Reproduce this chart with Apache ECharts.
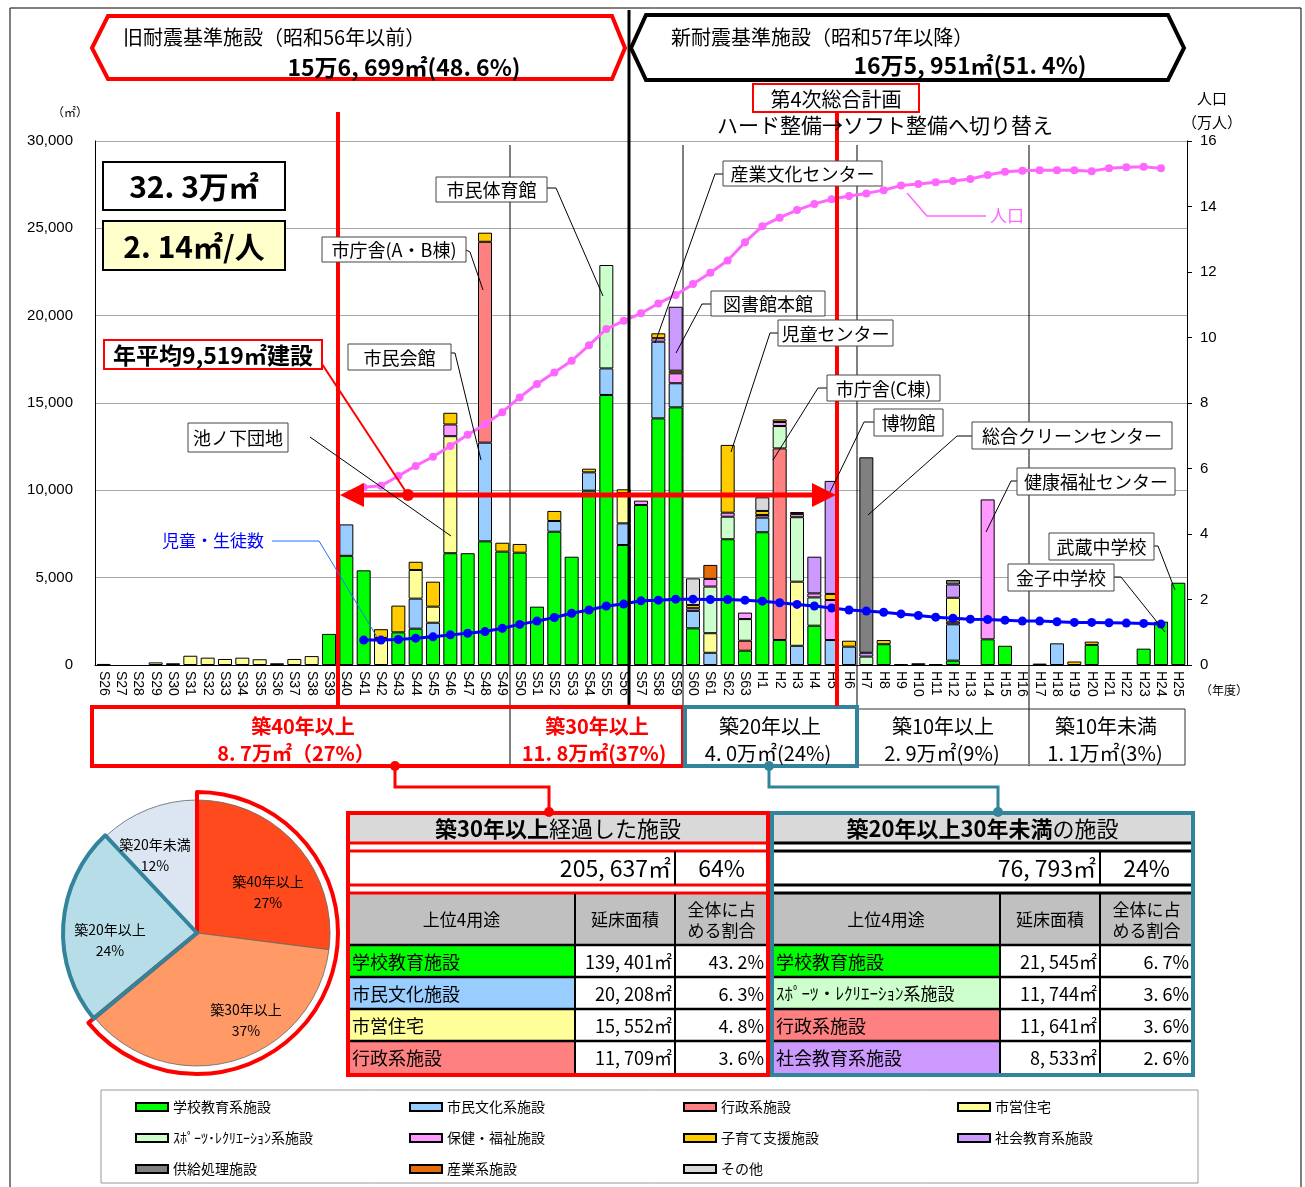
<!DOCTYPE html>
<html><head><meta charset="utf-8">
<script src="https://cdn.jsdelivr.net/npm/echarts@6/dist/echarts.min.js"></script>
<style>html,body{margin:0;padding:0;background:#fff}#c{width:1305px;height:1187px}</style>
</head><body><div id="c"></div>
<script>
// ---------------- DATA ----------------
const categories = ['S26','S27','S28','S29','S30','S31','S32','S33','S34','S35','S36','S37','S38','S39','S40','S41','S42','S43','S44','S45','S46','S47','S48','S49','S50','S51','S52','S53','S54','S55','S56','S57','S58','S59','S60','S61','S62','S63','H1','H2','H3','H4','H5','H6','H7','H8','H9','H10','H11','H12','H13','H14','H15','H16','H17','H18','H19','H20','H21','H22','H23','H24','H25'];
// floor area (m2) by facility type and year (only non-zero years listed)
const school    = {S39:1780,S40:6250,S41:5420,S43:1870,S44:2080,S45:1620,S46:6400,S47:6400,S48:7080,S49:6490,S50:6430,S51:3340,S52:7630,S53:6200,S54:9980,S55:15460,S56:6870,S57:9160,S58:14120,S59:14750,S60:2100,S62:7200,S63:820,H1:7600,H2:1430,H4:2250,H8:1190,H12:250,H14:1470,H15:1100,H20:1150,H23:935,H24:2480,H25:4710};
const civic     = {S40:1800,S44:1720,S45:800,S48:5650,S52:615,S54:1050,S55:1520,S56:1240,S58:4390,S59:1380,S60:1000,S61:700,H1:840,H3:1100,H5:1430,H6:1050,H12:2080,H18:1240};
const admin     = {S48:11500,S63:570,H2:10970,H12:150};
const housing   = {S26:60,S29:150,S30:100,S31:530,S32:420,S33:345,S34:420,S35:330,S36:100,S37:345,S38:510,S42:1550,S44:1640,S45:920,S46:6700,S56:1720,S61:1120,H3:3670,H12:1370};
const sports    = {S55:5920,S61:2670,S62:1290,S63:1240,H2:1280,H3:3690,H4:1620,H7:480};
const welfare   = {S46:670,S57:250,S58:200,S59:570,S60:150,S61:440,S62:230,S63:370,H1:150,H2:230,H3:180,H4:230,H5:2290,H14:8010};
const childcare = {S42:500,S43:1530,S44:470,S45:1430,S46:670,S48:520,S49:510,S50:500,S52:575,S54:210,S56:230,S58:280,S59:150,S60:180,S62:3880,H1:230,H2:150,H3:120,H5:350,H6:340,H8:240,H17:80,H19:200,H20:190};
const socialEdu = {S59:3660,H4:2100,H5:6470,H7:220,H9:50,H10:100,H12:760};
const supply    = {H7:11190,H11:50,H12:250};
const industry  = {S61:800};
const other     = {S60:1530,H1:780};
const facilityNames = ['学校教育系施設','市民文化系施設','行政系施設','市営住宅','ｽﾎﾟｰﾂ･ﾚｸﾘｴｰｼｮﾝ系施設','保健・福祉施設','子育て支援施設','社会教育系施設','供給処理施設','産業系施設','その他'];
const facilityData = [school,civic,admin,housing,sports,welfare,childcare,socialEdu,supply,industry,other];

// population (10k persons) and pupils (10k persons), from S41 to H24
const lineStart = 'S41';
const population = [5.43,5.47,5.77,6.08,6.36,6.69,7.03,7.35,7.72,8.17,8.58,8.93,9.29,9.76,10.26,10.51,10.74,11.04,11.30,11.63,11.98,12.35,12.91,13.40,13.66,13.89,14.08,14.22,14.32,14.40,14.50,14.64,14.69,14.74,14.78,14.84,14.96,15.06,15.09,15.11,15.11,15.11,15.08,15.17,15.20,15.21,15.17];
const pupils = [0.76,0.76,0.78,0.82,0.86,0.92,0.97,1.02,1.12,1.24,1.34,1.45,1.58,1.68,1.80,1.86,1.96,1.98,2.01,2.01,2.00,2.00,1.98,1.95,1.90,1.85,1.80,1.74,1.68,1.65,1.61,1.56,1.51,1.46,1.43,1.40,1.39,1.37,1.34,1.34,1.32,1.30,1.30,1.29,1.28,1.27,1.25];

const pieLabels = ['築40年以上','築30年以上','築20年以上','築20年未満'];
const pieShares = [27,37,24,12];

const bandTitles = ['築40年以上','築30年以上','築20年以上','築10年以上','築10年未満'];
const bandValues = ['8. 7万㎡（27%）','11. 8万㎡(37%)','4. 0万㎡(24%)','2. 9万㎡(9%)','1. 1万㎡(3%)'];

const oldTotal = ['205, 637㎡','64%'];
const oldUses = ['学校教育施設','市民文化施設','市営住宅','行政系施設'];
const oldAreas = ['139, 401㎡','20, 208㎡','15, 552㎡','11, 709㎡'];
const oldShares = ['43. 2%','6. 3%','4. 8%','3. 6%'];
const midTotal = ['76, 793㎡','24%'];
const midUses = ['学校教育施設','ｽﾎﾟｰﾂ・ﾚｸﾘｴｰｼｮﾝ系施設','行政系施設','社会教育系施設'];
const midAreas = ['21, 545㎡','11, 744㎡','11, 641㎡','8, 533㎡'];
const midShares = ['6. 7%','3. 6%','3. 6%','2. 6%'];

// ---------------- STYLES ----------------
const facilityColors = ['#00FF00','#99CCFF','#FF8080','#FFFF99','#CCFFCC','#FF99FF','#FFCC00','#CC99FF','#808080','#E46C0A','#D9D9D9'];
const pieColors = ['#FF4A1E','#FF9966','#B7DEE8','#DCE6F2'];
const oldRowColors = ['#00FF00','#99CCFF','#FFFF99','#FF8080'];
const midRowColors = ['#00FF00','#CCFFCC','#FF8080','#CC99FF'];
const JP = '"Noto Sans CJK JP","Noto Sans",sans-serif';
const NUM = '"Liberation Sans",Arial,sans-serif';
const RED = '#FF0000', TEAL = '#31849B';

// ---------------- GRAPHIC HELPERS ----------------
const G = [];
function T(x,y,str,o={}){ G.push({type:'text',x,y,z:o.z||110,silent:true,style:{text:str,fontSize:o.size||16,fontFamily:o.family||JP,fontWeight:o.weight||'normal',fill:o.color||'#000',align:o.align||'center',verticalAlign:'middle',textAlign:o.align||'center',textVerticalAlign:'middle',lineHeight:o.lh,rich:o.rich}}); }
function R(x,y,w,h,o={}){ G.push({type:'rect',z:o.z||100,silent:true,shape:{x,y,width:w,height:h},style:{fill:o.fill||'none',stroke:o.stroke||null,lineWidth:o.lw||1}}); }
function L(points,o={}){ G.push({type:'polyline',z:o.z||105,silent:true,shape:{points},style:{stroke:o.color||'#000',lineWidth:o.lw||1,fill:null}}); }
function P(points,o={}){ G.push({type:'polygon',z:o.z||105,silent:true,shape:{points},style:{fill:o.fill||'none',stroke:o.stroke||null,lineWidth:o.lw||1}}); }
function C(cx,cy,r,o={}){ G.push({type:'circle',z:o.z||106,silent:true,shape:{cx,cy,r},style:{fill:o.fill||'#000'}}); }
function box(x,y,w,h,txt,o={}){ R(x,y,w,h,{fill:o.fill||'#fff',stroke:o.stroke||'#444',lw:o.lw||1,z:o.z||100}); T(x+w/2,y+h/2+1,txt,{size:o.size||18,weight:o.weight,color:o.color,z:(o.z||100)+1}); }

// outer frame
R(10,8,1291,1190,{stroke:'#000',lw:1,z:1});

// header hexagons
P([[92,48],[108,16],[612,16],[625,48],[612,79],[108,79]],{fill:'#fff',stroke:RED,lw:4});
T(123,37,'旧耐震基準施設（昭和56年以前）',{size:20,align:'left'});
T(404,67,'15万6, 699㎡(48. 6%)',{size:23,weight:'bold'});
P([[631,48],[646,15],[1168,15],[1184,48],[1168,80],[646,80]],{fill:'#fff',stroke:'#000',lw:4});
T(671,37,'新耐震基準施設（昭和57年以降）',{size:20,align:'left'});
T(970,65,'16万5, 951㎡(51. 4%)',{size:23,weight:'bold'});

// axis titles
T(70,112,'（㎡）',{size:12});
T(1212,98,'人口',{size:15});
T(1212,122,'（万人）',{size:15});
T(1224,690,'（年度）',{size:12});

// planning labels
box(753,84,166,28,'第4次総合計画',{stroke:RED,lw:2,size:20});
T(885,125,'ハード整備→ソフト整備へ切り替え',{size:21});

// summary boxes
box(103,162,182,48,'32. 3万㎡',{stroke:'#000',lw:2,size:30,weight:'bold'});
box(103,221,182,49,'2. 14㎡/人',{stroke:'#000',lw:2,size:30,weight:'bold',fill:'#FFFFCC'});
box(104,340,218,29,'年平均9,519㎡建設',{stroke:RED,lw:2,size:23,weight:'bold'});

// vertical separators
[510,683,857,1029].forEach(x=>L([[x,145],[x,766]],{lw:1,z:3}));
L([[629,10],[629,705]],{lw:3,z:90});
L([[338,112],[338,706]],{color:RED,lw:4,z:95});
L([[837,112],[837,706]],{color:RED,lw:4,z:95});

// annual average arrow
L([[322,364],[408,495]],{color:RED,lw:2,z:96});
L([[358,495],[817,495]],{color:RED,lw:5,z:96});
P([[340,495],[364,483],[364,507]],{fill:RED,z:96});
P([[836,495],[812,483],[812,507]],{fill:RED,z:96});
C(408,495,6,{fill:RED,z:97});

// facility call-outs
const callouts = [
  ['池ノ下団地',188,423,100,29,[[310,437],[451,536]]],
  ['市民会館',348,344,103,26,[[451,353],[455,353],[481,460]]],
  ['市庁舎(A・B棟)',322,237,144,25,[[466,250],[470,252],[483,290]]],
  ['市民体育館',436,177,111,25,[[547,188],[556,188],[603,296]]],
  ['産業文化センター',723,161,159,25,[[723,174],[715,174],[655,343]]],
  ['図書館本館',711,291,114,25,[[711,304],[702,304],[676,353]]],
  ['児童センター',778,320,115,26,[[778,333],[770,333],[731,452]]],
  ['市庁舎(C棟)',827,375,113,26,[[827,388],[818,388],[773,460]]],
  ['博物館',874,409,69,27,[[874,422],[864,422],[830,492]]],
  ['総合クリーンセンター',972,422,200,27,[[972,436],[957,436],[868,515]]],
  ['健康福祉センター',1017,468,158,27,[[1017,481],[1011,481],[986,532]]],
  ['武蔵中学校',1049,533,105,27,[[1154,546],[1158,546],[1175,590]]],
  ['金子中学校',1008,564,106,27,[[1114,577],[1121,577],[1165,632]]]
];
callouts.forEach(c=>{ box(c[1],c[2],c[3],c[4],c[0],{size:18}); L(c[5],{lw:1,z:99}); });

// line labels
T(1007,216,'人口',{size:17,color:'#FF66FF'});
L([[907,193],[927,216],[986,216]],{color:'#FF66FF',lw:1.5,z:99});
T(213,541,'児童・生徒数',{size:17,color:'#0000FF'});
L([[272,541],[319,541],[377,637]],{color:'#1a75ff',lw:1,z:99});

// age band row
R(92,707,591,59,{stroke:RED,lw:4,fill:'#fff',z:60});
R(685,707,172,59,{stroke:TEAL,lw:4,fill:'#fff',z:60});
R(857,709,328,56,{stroke:'#333',lw:1,fill:'#fff',z:59});
L([[510,709],[510,764]],{lw:1,z:61});
L([[1029,709],[1029,764]],{lw:1,z:61});
const bandC1 = [303,597,770,943,1106], bandC2 = [296,594,768,942,1105];
bandTitles.forEach((t,i)=>{
  const red = i<2;
  T(bandC1[i],726,t,{size:20,weight:red?'bold':'normal',color:red?RED:'#000'});
  T(bandC2[i],753,bandValues[i],{size:20,weight:red?'bold':'normal',color:red?RED:'#000'});
});

// connectors
L([[395,766],[395,787],[549,787],[549,812]],{color:RED,lw:3,z:62});
C(395,766,5,{fill:RED,z:63}); C(549,812,5,{fill:RED,z:120});
L([[769,766],[769,787],[998,787],[998,812]],{color:TEAL,lw:3,z:62});
C(769,766,5,{fill:TEAL,z:63}); C(998,812,5,{fill:TEAL,z:120});

// tables
function table(x0,c1,c2,x3,border,titleBold,titleNorm,total,uses,areas,shares,colors){
  const w = x3-x0;
  const inner = border===RED ? RED : '#000';
  R(x0,813,w,262,{fill:'#fff',z:70});
  R(x0+2,815,w-4,27,{fill:'#D9D9D9',z:71});
  T(x0+w/2,829,'{b|'+titleBold+'}{n|'+titleNorm+'}',{z:80,rich:{b:{fontSize:22,fontWeight:'bold',fontFamily:JP,fill:'#000'},n:{fontSize:22,fontFamily:JP,fill:'#000'}}});
  [843,851,885,893].forEach(y=>L([[x0,y],[x3,y]],{color:inner,lw:3,z:75}));
  T(c2-4,868,total[0],{size:23,align:'right',z:80});
  T((c2+x3)/2,868,total[1],{size:23,z:80});
  L([[c2,851],[c2,885]],{lw:2,z:76});
  R(x0+2,894,w-4,51,{fill:'#C0C0C0',z:71});
  T((x0+c1)/2,920,'上位4用途',{size:17,z:80});
  T((c1+c2)/2,920,'延床面積',{size:17,z:80});
  T((c2+x3)/2,920,'全体に占\nめる割合',{size:17,lh:21,z:80});
  const rowY=[946,978,1010,1042];
  rowY.forEach((y,i)=>{
    R(x0+2,y,c1-x0-2,32,{fill:colors[i],z:71});
    T(x0+4,y+16,uses[i],{size:i===1&&border!==RED?17:18,align:'left',z:80});
    T(c2-3,y+16,areas[i],{size:18,align:'right',z:80});
    T(x3-4,y+16,shares[i],{size:18,align:'right',z:80});
  });
  [945,977,1009,1041].forEach(y=>L([[x0,y],[x3,y]],{lw:2.5,z:75}));
  L([[c1,894],[c1,1074]],{lw:2,z:76});
  L([[c2,894],[c2,1074]],{lw:2,z:76});
  R(x0,813,w,262,{stroke:border,lw:4,z:78});
}
table(348,575,675,768,RED,'築30年以上','経過した施設',oldTotal,oldUses,oldAreas,oldShares,oldRowColors);
table(772,1000,1100,1193,TEAL,'築20年以上30年未満','の施設',midTotal,midUses,midAreas,midShares,midRowColors);

// pie labels
const pieLabelPos = [[268,892],[246,1020],[110,940],[155,855]];
pieLabels.forEach((t,i)=>T(pieLabelPos[i][0],pieLabelPos[i][1],t+'\n'+pieShares[i]+'%',{size:14,lh:21,z:120}));

// legend frame
R(101,1090,1097,93,{stroke:'#999',lw:1,z:1});

// ---------------- SERIES ----------------
const startIdx = categories.indexOf(lineStart);
function fullLine(arr){ return categories.map((c,i)=> (i>=startIdx && i<startIdx+arr.length) ? arr[i-startIdx] : null); }
const barSeries = facilityNames.map((name,k)=>({
  name, type:'bar', stack:'area', barWidth:14, z:2,
  itemStyle:{color:facilityColors[k], borderColor:'#000', borderWidth:1},
  data: categories.map(c=> facilityData[k][c]!=null ? facilityData[k][c] : null)
}));

const legendCommon = {orient:'vertical', top:1099, itemWidth:32, itemHeight:8, itemGap:15, padding:0, icon:'rect', selectedMode:false,
  textStyle:{fontFamily:JP, fontSize:14, color:'#000', lineHeight:16}};

const option = {
  animation:false,
  backgroundColor:'#fff',
  grid:{left:95, right:118, top:141, bottom:522, containLabel:false},
  legend:[
    Object.assign({left:135, data:[facilityNames[0],facilityNames[4],facilityNames[8]]},legendCommon),
    Object.assign({left:409, data:[facilityNames[1],facilityNames[5],facilityNames[9]]},legendCommon),
    Object.assign({left:683, data:[facilityNames[2],facilityNames[6],facilityNames[10]]},legendCommon),
    Object.assign({left:957, data:[facilityNames[3],facilityNames[7]]},legendCommon)
  ],
  xAxis:{type:'category', data:categories, axisTick:{show:false},
    axisLine:{show:true, lineStyle:{color:'#000', width:1}},
    axisLabel:{rotate:-90, interval:0, fontSize:14, fontFamily:NUM, color:'#000', margin:6}},
  yAxis:[
    {type:'value', min:0, max:30000, interval:5000,
      axisLine:{show:true, lineStyle:{color:'#000'}}, axisTick:{show:false},
      axisLabel:{fontSize:15, fontFamily:NUM, color:'#000', margin:22, formatter:v=>v.toLocaleString('en-US')},
      splitLine:{lineStyle:{color:'#A6A6A6', width:1}}},
    {type:'value', min:0, max:16, interval:2, position:'right',
      axisLine:{show:true, lineStyle:{color:'#000'}}, axisTick:{show:true, length:5, lineStyle:{color:'#000'}},
      axisLabel:{fontSize:15, fontFamily:NUM, color:'#000', margin:13},
      splitLine:{show:false}}
  ],
  series: barSeries.concat([
    {name:'人口', type:'line', yAxisIndex:1, data:fullLine(population), z:10,
      symbol:'circle', symbolSize:8, showSymbol:true, connectNulls:false,
      lineStyle:{color:'#FF66FF', width:3}, itemStyle:{color:'#FF66FF'}},
    {name:'児童・生徒数', type:'line', yAxisIndex:1, data:fullLine(pupils), z:10,
      symbol:'circle', symbolSize:9, showSymbol:true,
      lineStyle:{color:'#0000FF', width:3}, itemStyle:{color:'#0000FF'}},
    {name:'築年数', type:'pie', center:[197,933], radius:133, startAngle:90, silent:true, z:20,
      label:{show:false}, labelLine:{show:false},
      itemStyle:{borderColor:'#666', borderWidth:0.8},
      data: pieLabels.map((n,i)=>({name:n, value:pieShares[i], itemStyle:{color:pieColors[i]}}))},
    {name:'築30年以上枠', type:'pie', center:[197,933], radius:141, startAngle:90, silent:true, z:21,
      label:{show:false}, labelLine:{show:false},
      data:[{name:'a', value:pieShares[0]+pieShares[1], itemStyle:{color:'rgba(0,0,0,0)', borderColor:RED, borderWidth:4}},
            {name:'b', value:pieShares[2]+pieShares[3], itemStyle:{color:'rgba(0,0,0,0)', borderWidth:0}}]},
    {name:'築20年以上枠', type:'pie', center:[197,933], radius:134, startAngle:90, silent:true, z:22,
      label:{show:false}, labelLine:{show:false},
      data:[{name:'c', value:pieShares[0]+pieShares[1], itemStyle:{color:'rgba(0,0,0,0)', borderWidth:0}},
            {name:'d', value:pieShares[2], itemStyle:{color:'rgba(0,0,0,0)', borderColor:TEAL, borderWidth:4}},
            {name:'e', value:pieShares[3], itemStyle:{color:'rgba(0,0,0,0)', borderWidth:0}}]}
  ]),
  graphic:{elements:G}
};
const chart = echarts.init(document.getElementById('c'), null, {renderer:'canvas'});
chart.setOption(option);
</script>
</body></html>
